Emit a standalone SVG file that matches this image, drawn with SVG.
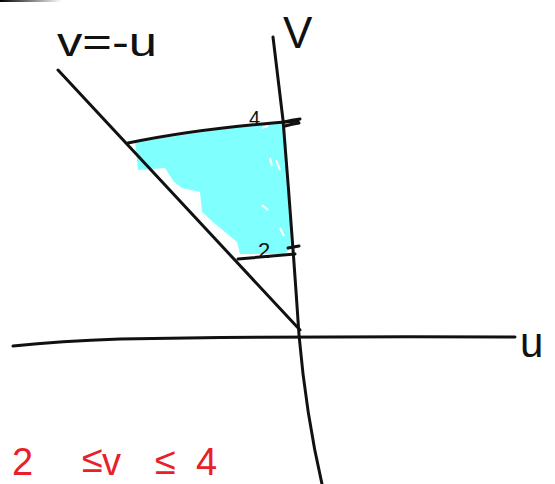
<svg xmlns="http://www.w3.org/2000/svg" width="555" height="484" viewBox="0 0 555 484">
<style>
.ln{fill:none;stroke:#111;stroke-width:3;stroke-linecap:round;stroke-linejoin:round}
.lb{font-family:"Liberation Sans",Arial,sans-serif;fill:#111}
.rd{font-family:"Liberation Sans",Arial,sans-serif;fill:#e8202a;font-size:38px}
</style>
<defs>
<linearGradient id="g" x1="0" x2="1" y1="0" y2="0">
<stop offset="0" stop-color="#000"/><stop offset="1" stop-color="#000" stop-opacity="0"/>
</linearGradient>
</defs>
<rect width="555" height="484" fill="#fff"/>
<rect x="0" y="0" width="62" height="2" fill="url(#g)"/>
<g id="region">
<path fill="#80ffff" d="M135,142 L258,124 L285,122 Q290,190 291,248 L284,254 L240,254 L237,242 L213,222 L202,212 L200,192 L182,188 L174,182 L165,168 L138,170 Z"/>
<path stroke="#fff" stroke-width="2" fill="none" d="M262,128 L268,126 M270,158 L272,166 M262,205 L268,210 M280,228 L284,236 M276,160 L280,170"/>
</g>
<g id="connectors">
<path id="v-axis" class="ln" d="M273,37 L283,120 Q292,230 299,335 Q306,415 322,484"/>
<path id="u-axis" class="ln" d="M13,346 Q60,341 120,339 Q300,336 515,337"/>
<path id="diag" class="ln" d="M58,70 L300,330"/>
<path id="top-line" class="ln" d="M128,143 Q200,128 298,121"/>
<path id="top-tick" class="ln" stroke-width="2.5" d="M284,122 Q292,120 300,119 M285,126 Q292,124 299,123"/>
<path id="bot-line" class="ln" d="M238,259 L295,254"/>
<path id="bot-tick" class="ln" stroke-width="2.5" d="M288,248 L299,246"/>
</g>
<g id="v-label"><text class="lb" x="283" y="48" font-size="44">V</text></g>
<g id="diag-label"><text class="lb" x="57" y="56" font-size="40" textLength="100" lengthAdjust="spacingAndGlyphs">v=-u</text></g>
<g id="u-label"><text class="lb" x="520" y="357" font-size="42">u</text></g>
<g id="tick4"><text class="lb" x="249" y="125" font-size="20">4</text></g>
<g id="tick2"><text class="lb" x="258" y="258" font-size="22">2</text></g>
<g id="inequality">
<text class="rd" x="12" y="475">2</text>
<text class="rd" x="82" y="472" font-size="30">≤</text>
<text class="rd" x="102" y="475">v</text>
<text class="rd" x="155" y="474" font-size="34">≤</text>
<text class="rd" x="196" y="475">4</text>
</g>
</svg>
